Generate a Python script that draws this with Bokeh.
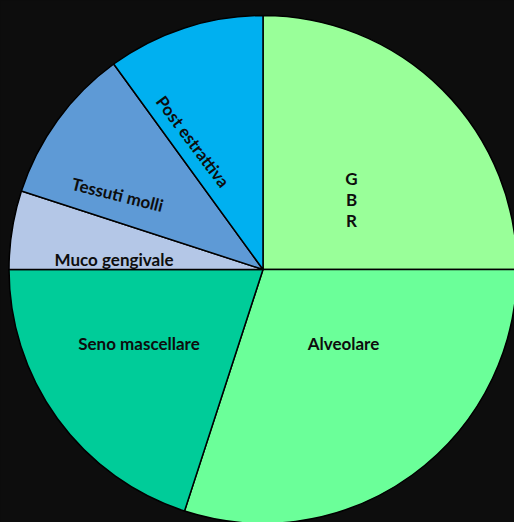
from bokeh.plotting import figure
from bokeh.models import Range1d, ColumnDataSource
from bokeh.core.properties import value
from bokeh.embed import file_html
from bokeh.resources import INLINE
import numpy as np

# Data
categories = ["GBR", "Alveolare", "Seno mascellare", "Muco gengivale", "Tessuti molli", "Post estrattiva"]
values = [25, 30, 20, 5, 10, 10]
colors = ["#99FF99", "#6BFF99", "#00CC99", "#B4C7E7", "#5E9AD6", "#00B0F0"]
label_texts = ["G\nB\nR", "Alveolare", "Seno mascellare", "Muco gengivale", "Tessuti molli", "Post estrattiva"]

# Layout (pixel space of the page)
W, H = 514, 522
cx, cy, R = 262.5, H - 269, 254
label_pos = [(351, 199), (343, 343), (138.5, 343), (113.5, 259), (117, 194), (192.5, 141)]
label_rot = [0, 0, 0, 0, -14, -53]

vals = np.array(values, dtype=float)
frac = vals / vals.sum()
ends = np.cumsum(frac) * 2 * np.pi
starts = np.concatenate([[0], ends[:-1]])
start_angle = np.pi / 2 - starts
end_angle = np.pi / 2 - ends

src = ColumnDataSource(dict(cat=categories, start=start_angle, end=end_angle, color=colors))

p = figure(width=W, height=H, x_range=Range1d(0, W), y_range=Range1d(0, H),
           output_backend="svg", toolbar_location=None, min_border=0,
           background_fill_color="#0d0d0d", border_fill_color="#0d0d0d",
           outline_line_color=None)
p.axis.visible = False
p.grid.visible = False

p.wedge(x=cx, y=cy, radius=R, start_angle="start", end_angle="end", direction="clock",
        fill_color="color", line_color="black", line_width=1.5, source=src)

lsrc = ColumnDataSource(dict(
    x=[q[0] for q in label_pos], y=[H - q[1] for q in label_pos],
    text=label_texts, angle=[np.deg2rad(a) for a in label_rot]))
p.text(x="x", y="y", text="text", angle="angle", source=lsrc,
       text_font=value("Lato"), text_font_style="bold", text_font_size="17px",
       text_color="#0d0d0d", text_align="center", text_baseline="middle",
       text_line_height=1.0)

html = file_html(p, INLINE)
html = html.replace("<head>", "<head><style>html,body{background:#0d0d0d;}</style>", 1)
open("out.html", "w").write(html)
